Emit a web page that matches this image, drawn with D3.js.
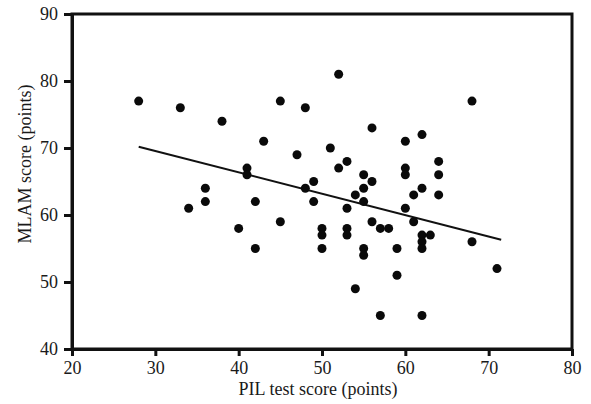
<!DOCTYPE html>
<html>
<head>
<meta charset="utf-8">
<script src="https://cdn.jsdelivr.net/npm/d3@7"></script>
<style>
  body { margin: 0; background: #fff; }
  svg text { font-family: "Liberation Serif", "Times New Roman", serif; fill: #1a1a1a; }
</style>
</head>
<body>
<svg id="chart"></svg>
<script>
// PIL test score vs MLAM score, one pair per participant
const pil  = [28, 33, 38, 43, 45, 47, 41, 41, 36, 34, 36, 40, 42, 42, 45, 52, 48, 56, 60, 62, 51,
              53, 52, 55, 56, 60, 60, 64, 64, 64, 62, 61, 55, 54, 49, 48, 49, 55, 53, 56, 57, 58,
              60, 61, 50, 50, 50, 53, 53, 55, 55, 59, 59, 62, 63, 62, 62, 68, 71, 54, 57, 62, 68];
const mlam = [77, 76, 74, 71, 77, 69, 67, 66, 64, 61, 62, 58, 62, 55, 59, 81, 76, 73, 71, 72, 70,
              68, 67, 66, 65, 67, 66, 68, 66, 63, 64, 63, 64, 63, 65, 64, 62, 62, 61, 59, 58, 58,
              61, 59, 58, 57, 55, 58, 57, 55, 54, 55, 51, 57, 57, 56, 55, 56, 52, 49, 45, 45, 77];
// fitted regression line end points
const fitX = [28, 71.5];
const fitY = [70.2, 56.3];
const xTicks = [20, 30, 40, 50, 60, 70, 80];
const yTicks = [40, 50, 60, 70, 80, 90];

const W = 591, H = 404;
const margin = {top: 14, right: 19, bottom: 55, left: 72};
const width = W - margin.left - margin.right;
const height = H - margin.top - margin.bottom;

const svg = d3.select('#chart').attr('width', W).attr('height', H);
const g = svg.append('g').attr('transform', `translate(${margin.left},${margin.top})`);

const xs = d3.scaleLinear().domain([20, 80]).range([0, width]);
const ys = d3.scaleLinear().domain([40, 90]).range([height, 0]);

// frame
g.append('rect')
  .attr('x', 0).attr('y', 0)
  .attr('width', width).attr('height', height)
  .attr('fill', 'none').attr('stroke', '#111').attr('stroke-width', 3);

const yAxis = g.append('g')
  .call(d3.axisLeft(ys).tickValues(yTicks).tickSize(8).tickPadding(6).tickSizeOuter(0));
const xAxis = g.append('g')
  .attr('transform', `translate(0,${height})`)
  .call(d3.axisBottom(xs).tickValues(xTicks).tickSize(7).tickPadding(5).tickSizeOuter(0));

[xAxis, yAxis].forEach(a => {
  a.select('.domain').attr('stroke', '#111').attr('stroke-width', 3);
  a.selectAll('.tick line').attr('stroke', '#111').attr('stroke-width', 3);
  a.selectAll('.tick text').style('font-size', '18px').attr('fill', '#1a1a1a');
});

// axis titles
g.append('text')
  .attr('x', width / 2 - 4)
  .attr('y', height + 46)
  .attr('text-anchor', 'middle')
  .style('font-size', '18px')
  .text('PIL test score (points)');

g.append('text')
  .attr('transform', `translate(${-41},${150}) rotate(-90)`)
  .attr('text-anchor', 'middle')
  .style('font-size', '18px')
  .text('MLAM score (points)');

// regression line
g.append('line')
  .attr('x1', xs(fitX[0])).attr('y1', ys(fitY[0]))
  .attr('x2', xs(fitX[1])).attr('y2', ys(fitY[1]))
  .attr('stroke', '#111').attr('stroke-width', 2);

// points
g.selectAll('circle.pt')
  .data(pil.map((v, i) => ({x: v, y: mlam[i]})))
  .enter().append('circle')
  .attr('class', 'pt')
  .attr('cx', d => xs(d.x))
  .attr('cy', d => ys(d.y))
  .attr('r', 4.5)
  .attr('fill', '#0a0a0a');
</script>
</body>
</html>
